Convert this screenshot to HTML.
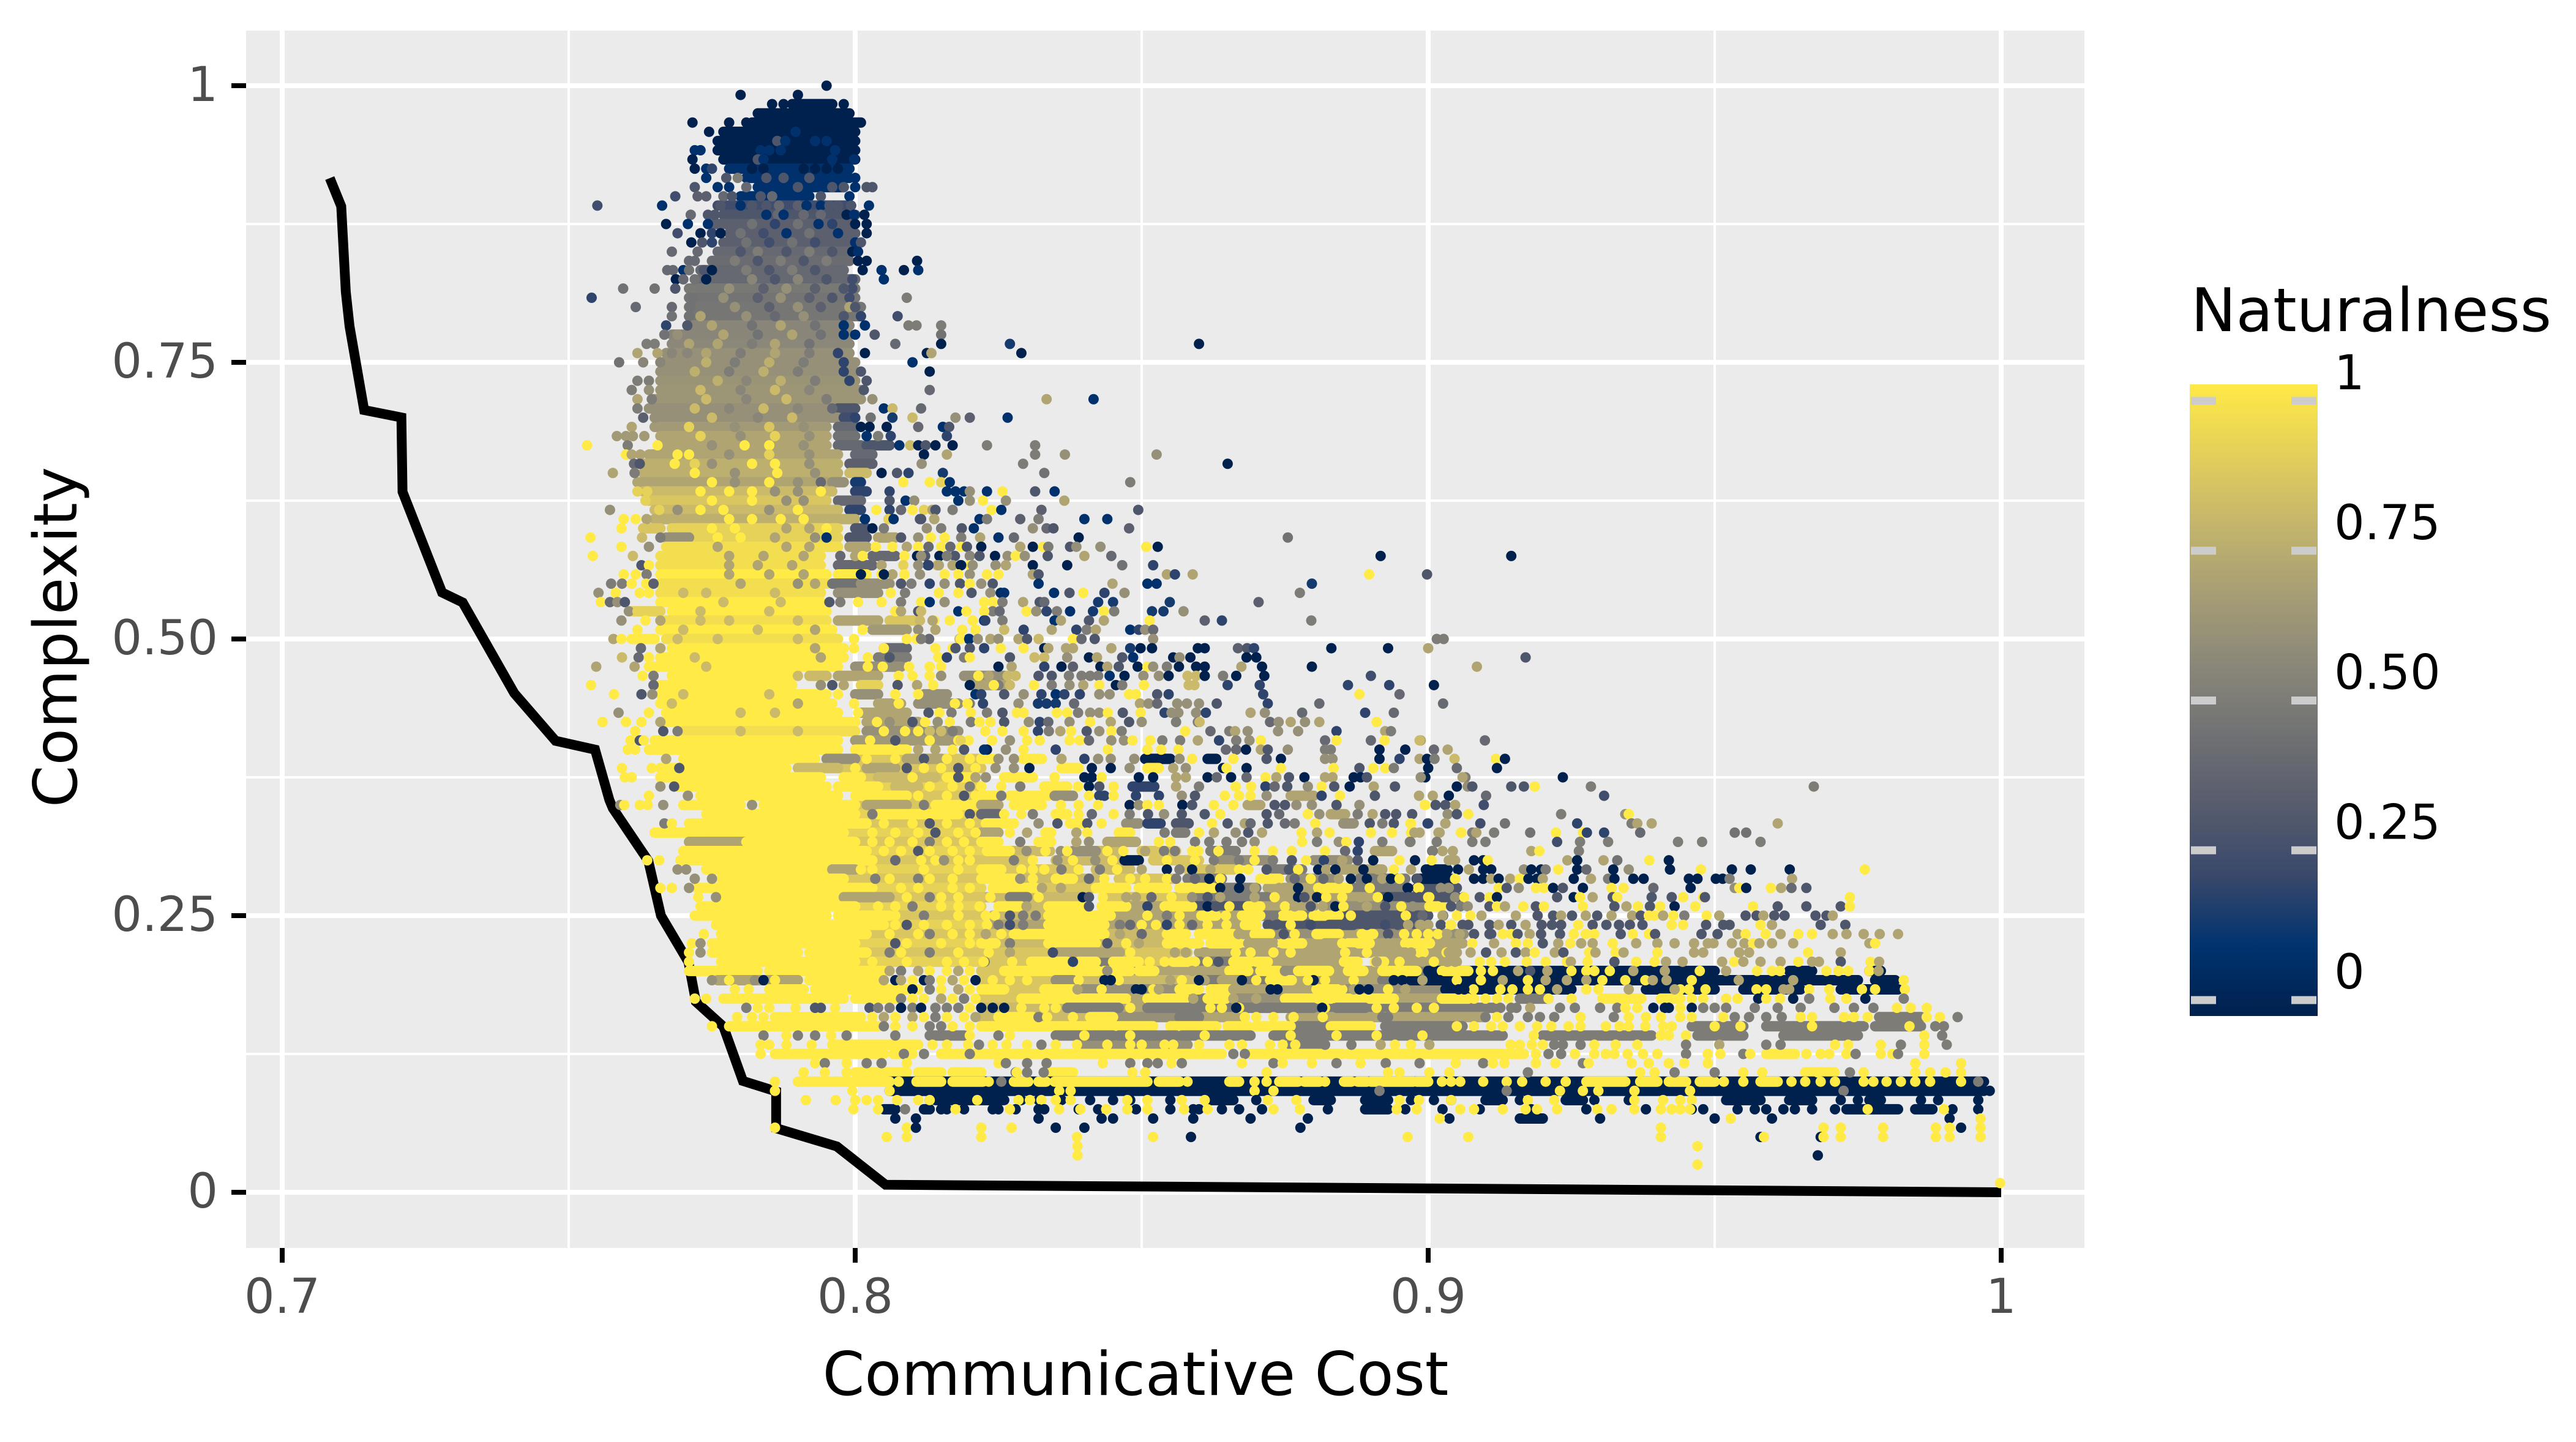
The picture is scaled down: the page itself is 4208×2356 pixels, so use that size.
<!DOCTYPE html>
<html lang="en">
<head>
<meta charset="utf-8">
<title>Complexity vs Communicative Cost</title>
<style>
html,body{margin:0;padding:0;background:#fff;}
svg{display:block;font-family:"DejaVu Sans","Liberation Sans",sans-serif;}
</style>
</head>
<body>
<svg id="chart" xmlns="http://www.w3.org/2000/svg" width="4208" height="2356" viewBox="0 0 4208 2356">
<defs><linearGradient id="cividis-ramp" x1="0" y1="1" x2="0" y2="0"></linearGradient></defs>
<rect x="0" y="0" width="4208" height="2356" fill="#ffffff"></rect>
<rect x="402" y="50" width="3003" height="1989" fill="#ebebeb"></rect>
<g id="grid"></g>
<g id="frontier"></g>
<g id="marks"></g>
<g id="axes"></g>
<text x="1855" y="2279" font-size="98.5" text-anchor="middle" fill="#000">Communicative Cost</text>
<text transform="translate(125,1041) rotate(-90)" font-size="98.5" text-anchor="middle" fill="#000">Complexity</text>
<g id="legend">
<text x="3579" y="541" font-size="98.5" fill="#000">Naturalness</text>
<rect x="3577" y="628" width="209" height="1032" fill="url(#cividis-ramp)"></rect>
</g>
</svg>
<script>
/* axis ticks */
const xMajorTicks = [0.7, 0.8, 0.9, 1];
const xMinorTicks = [0.75, 0.85, 0.95];
const xTickLabels = ["0.7", "0.8", "0.9", "1"];
const yMajorTicks = [0, 0.25, 0.5, 0.75, 1];
const yMinorTicks = [0.125, 0.375, 0.625, 0.875];
const yTickLabels = ["0", "0.25", "0.50", "0.75", "1"];
const legendTicks = [0, 0.25, 0.5, 0.75, 1];
const legendLabels = ["0", "0.25", "0.50", "0.75", "1"];
const cividisStops = ["#00204D", "#00336F", "#39486B", "#575C6D", "#707173", "#8A8779", "#A69D75", "#C4B56C", "#E4CF5B", "#FFEA46"];

/* optimal frontier */
const frontierCost = [0.7083, 0.7103, 0.7111, 0.71175, 0.7143, 0.7208, 0.721, 0.7279, 0.7315, 0.7405, 0.7477, 0.7546, 0.7571, 0.7577, 0.7639, 0.7661, 0.7709, 0.7722, 0.777, 0.7804, 0.7862, 0.7862, 0.7968, 0.8053, 1];
const frontierComplexity = [0.9165, 0.891, 0.8136, 0.7826, 0.7069, 0.7002, 0.633, 0.542, 0.533, 0.451, 0.408, 0.4, 0.3545, 0.347, 0.2994, 0.25, 0.208, 0.1722, 0.1497, 0.1006, 0.0912, 0.0579, 0.0414, 0.0068, 0];

/* complexity is quantised in 1/120 steps: level = complexity * 120
   bandRows: [level, naturalness(0-10), costStart, costEnd] in thousandths of cost — runs of touching points */
const bandRows = [
[37,8,822,834],[37,8,840,846],[37,8.5,850,856],[37,5,862,866],[36,8.5,822,830],[36,8,835,846],[36,8.5,852,860],[36,6,864,872],[36,6,880,886],
[35,8.5,826,838],[35,8,842,848],[35,8.5,858,866],[35,5,872,878],[35,7,884,892],[34,8,828,842],[34,8.5,846,856],[34,5,858,864],[34,6,876,884],[34,5,888,896],
[33,8.5,830,842],[33,5,862,870],[33,7,872,880],[33,5,886,896],[33,3,898,905],[32,8,822,840],[32,8.5,844,858],[32,5,860,872],[32,7,874,890],[32,3,892,905],
[31,8,829,834],[31,7,847,854],[31,3,858,868],[31,7,870,880],[31,6,882,900],[30,8,824,834],[30,7,845,860],[30,7,863,867],[30,5,870,880],[30,3,885,900],
[29,7,824,834],[29,7,844,860],[29,7,862,868],[29,3,872,882],[29,3,887,900],[28,8.5,822,828],[28,8,844,854],[28,7,866,870],[28,6,872,880],[28,7,884,888],[28,6,890,905],
[27,8,825,833],[27,8,842,854],[27,7,878,882],[27,7,890,896],[27,7,900,906],[26,8.5,822,835],[26,8.5,847,858],[26,7,860,879],[26,7,887,892],[26,7,896,905],
[25,8.5,822,830],[25,5,842,845],[25,8.5,849,855],[25,5,859,866],[25,7,872,885],[25,7,892,905],[24,8.5,822,826],[24,6,848,849.5],[24,7,852,865],[24,6,868,870.7],[24,6,874,877],[24,7,882.7,892],[24,5,898,902],
[23,8.5,822,838],[23,8,838,860],[23,5,860,872],[23,7,876,892],[23,5,892,897],[22,8.5,826,833],[22,6,838,856],[22,7,865,880],[22,6,885,903],
[21,8.5,822,829],[21,7,847,851],[21,5,857,861],[21,6,865,875],[21,7,894,902],[20,8,822,837],[20,7,846,851],[20,5,860,872],[20,5,880,884],[20,5,889,912],
[19,8,822,825],[19,8,831,841],[19,6,845,856],[19,7,860,868],[19,7,876,910],[18,5,876,883],[18,5,897,906],[16,6,840,858],[16,5,876,882],
[47,8.5,800,822],[46,8.5,797,822],[45,8.5,801,816],[44,9,804,822],[43,8.5,809,822],[42,8.5,800,822],[41,9,800,822],[40,8.5,802,822],[39,9,798,822],[38,8.5,800,822],
[37,9,802,822],[36,8.5,803,822],[35,9,800,822],[34,8.5,798,822],[33,9,803,822],[32,8.5,806,822],[31,9,800,822],[30,8.5,806,822],[29,9,805,822],[28,8.5,802,822],[27,9,800,822],[26,8.5,802,822],[25,9,800,822],
[118,0,789,796],[117,0,783,799],[116,0,782,801],[115,0,777,782],[115,0,783,800],[114,0,776,800],[113,0,776,800],[112,0,777,800],
[111,1,778,799],[110,1,781,799],[109,1,783,798],[108,1,780,792],[107,2.5,776,799],[106,3,777,800],[105,3.5,775,799],[104,3.5,778,800],
[103,3.5,777,800],[102,4,776,799],[101,4.2,775,799],[100,4,773,798],[99,4,773,800],[98,4.8,771,800],[97,4.6,771,800],[96,4.7,771,801],
[95,4.7,771,801],[94,5.5,771,799],[93,5.5,768,799],[92,5.6,768,799],[91,6,767,799],[90,6,766,800],[89,6,766,800],[88,6.2,766,800],[87,6.3,766,801],[86,6.3,765,801],
[85,6,764,797],[85,3,797,800],[84,6,766,797],[84,2.5,798,800],[83,6.5,765,795],[83,4,797,800],[82,7,766,795],[82,4.5,797,800],
[81,7,766,795],[81,4,797,801],[81,3,802,806],[80,7,764,797],[80,4,800,803],[79,7.5,763,797],[79,3.5,799,803],[78,7.5,763,797],[78,8,799,802],
[77,7,762,795],[77,6,796,798],[77,1.5,800,801],[76,8,763,796],[76,2,800,802],[75,8.5,764,795],[75,4,797,801],[74,8,765,797],[74,2,799,801],
[73,7.5,765,800],[72,9,768,797],[72,8.5,763,766],[72,3,800,802],[71,9,772,797],[71,6,767,771],[71,3,799,802],[71,7,804,807],
[70,9.5,767,797],[70,7,799,802],[69,9.5,766,794],[69,4,803,807],[68,9.5,766,794],[68,4,797,803],[67,10,766,795],[67,10,797,802],
[66,9.5,766,795],[66,4.5,796,800],[66,6,801,806],[65,9.5,766,794],[65,6,797,804],[64,10,766,794],[63,10,768,795],[63,9,761,766],
[62,9.5,767,795],[62,7,797,804],[62,8.5,806,811],[61,10,766,796],[61,6.5,803,809],[60,9.5,767,797],[60,10,761,765],[59,10,768,798],[59,4,805,809],
[58,10,766,798],[58,5,804,809],[57,10,764,797],[57,6,800,808],[56,10,768,789],[56,8,792,795],[56,7,797,804],[56,6,819,826],
[55,10,766,789],[55,9,801,804],[55,7,820,826],[54,10,766,795],[54,6,800,804],[54,6,812,816],[53,10,766,796],[53,7,804,808],[53,6,811,818],
[52,10,767,797],[52,7,801,809],[51,10,767,800],[51,7,802,811],[50,9.5,770,800],[50,6,802,818],[49,10,765,797],[49,6.5,800,818],
[48,10,764,797],[48,10,800,809],[47,10,770,793],[47,6,795,800],[47,7,809,815],[46,10,766,788],[46,8,790,797],[46,7,802,807],
[45,10,766,794],[45,10,798,801],[45,8,804,814],[45,10,816,821],[44,10,769,795],[44,10,797,804],[44,8,807,811],[43,10,773,797],[43,10,800,809],
[42,10,770,780],[42,10,784,800],[42,7,802,809],[42,10,814,821],[41,10,774,800],[41,10,804,818],[40,10,771,802],[39,10,765,774],[39,10,775,798],
[38,7,771,781],[38,10,781,800],[37,10,770,802],[36,10,769.5,803],[35,10,774,795],[35,7,796,800],[34,10,776.6,798],[33,10,772.4,803],[32,10,777,797],[32,7,798,806],
[31,10,773,800],[30,10,772,795],[30,10,797,806],[29,10,775.7,805],[28,10,776.6,797],[28,10,798,802],[27,10,775,800],[26,10,775,790],[26,10,792,802],
[25,10,776.6,800],[24,10,771,783],[24,10,785,805],[23,7,776,790],[23,10,792,804],[22,10,793,809],[22,10,785,791],[21,10,777,798],[21,10,800,807],
[19,10,786,801],[18,10,778,804],[16,10,796,811],[15,10,786,805],[13,10,800,809],
[47,10,822,824.5],[47,10,829.3,832.6],[47,0,850.6,855],[47,0,861.5,863],[46,10,836,839],[46,10,851,853],[45,10,826,831],[44,10,833,837],[44,2,848.4,852.2],
[43,10,822,824.5],[43,10,827,833.7],[43,6,834.8,838],[43,7,876,880],[42,7,822,825],[42,10,827.7,832.6],[42,7,868.5,870.7],[41,4,822,825],[41,10,835,837],[41,7,883,885.5],
[40,10,822.8,827.7],[40,10,837.5,840],[40,6,847.3,849.5],[40,2,851,853.3],[40,3,856,858.2],[40,6,885.2,887],[39,7,822,825],[39,10,833.2,834.2],[39,5,856,857.6],[39,10,846,848],
[38,10,822,825],[38,10,832,834.2],[38,7,844,849],[37,10,823,827],[37,6,838,842],[37,7,890.7,893.7],[36,0,847,849.5],[35,10,822,825.5],[35,0,899.6,903.4],
[34,10,822,828],[34,10,835,838],[34,10,870.7,874],[34,0,898,903.4],[33,10,824,831.5],[33,10,842,847.3],[33,10,849.5,854.4],[33,10,856.6,862.6],[33,10,880.8,886],
[32,5,827,830],[32,3,896.4,899.6],[31,10,825,829],[31,10,833.7,840],[31,10,843,847.3],[31,10,854,858.8],[31,10,868.5,870.7],[31,10,900.2,902.4],
[30,10,833.7,844.6],[30,10,860.4,863],[30,10,867.5,870.7],[30,10,874.6,878],[30,10,880,884.4],[30,3,890,892],[29,10,833.7,843.5],[29,3,882.7,887],[29,10,868,870],
[28,10,827.7,843.5],[28,10,854.4,857.7],[28,10,860,866],[28,10,869.7,872.4],[28,10,880.5,884.4],[28,10,888.4,890.4],[27,10,822,824.5],[27,10,833.7,842],[27,10,854.4,860],[27,10,862,867],[27,7,868.6,873],[27,10,874.6,878],[27,7,882,885.4],[27,10,886,889.8],[27,10,896,900.2],
[26,7,835.3,846.2],[26,7,879,887],[26,7,892,896],[25,10,830.7,837],[25,10,839,842],[25,10,845,849.5],[25,10,855.5,859.3],[25,10,866,869],[25,10,870,872],[25,10,885.3,887.7],[25,10,890.7,892.3],
[24,0,900,907],[24,0,907,950],[24,0,963,967],[24,0,977,979],[23,0,897,907],[23,0,907,975],[23,0,978,981.5],[22,0,903,907],[22,0,907,925],[22,0,938,950],[22,0,955,965],[22,0,972,982],
[24,10,826,842.4],[24,10,843.5,848],[24,10,849.5,852.2],[24,10,865.3,868.6],[24,10,870.7,874],[24,10,877.3,882.7],[24,10,886,888.7],[24,10,892,898],[24,10,902.4,907],
[23,6,835,838],[23,7,864,867.5],[23,10,872.4,876.2],[22,10,822,826],[22,10,833,838],[22,10,856.6,860],[22,10,862,865.3],[22,10,880.5,885],
[21,10,829,847.3],[21,10,851,857.6],[21,10,861.5,864.7],[21,10,875,883],[21,10,884,894],[21,10,902.4,907],[21,5,916,921],[21,10,930.4,937.2],[21,10,940.6,944],
[20,5,837,846],[20,5,851,860],[20,5,872,880],[20,5,884,889],[19,10,825,831],[19,10,841,845],[19,5,856.6,860],[19,5,978.7,986],
[18,10,822,852],[18,10,855,863],[18,10,865,868.6],[18,10,870,876],[18,10,883,890],[18,5,892.5,897],[18,5,946,955],[18,5,959,976],[18,5,978,986],
[17,5,813,819],[17,5,835,845],[17,5,846,856],[17,5,857,869],[17,5,873,913],[17,5,920,939],[17,5,947,955],[17,5,962,975],
[15,10,815,826],[15,10,806.7,810],[15,10,824,864],[15,10,869,885],[15,10,886,916.7],[15,10,959,964],[13,10,811,815],[13,10,817,822],[13,10,834,838],[13,10,965.8,970.9],
[12,0,806,997],[11,0,806,997],
[10,0,814,826],[10,0,862,866],[10,0,880,883],[10,0,889,893],[10,0,910,913],[10,0,924,927],[10,0,952,958],[10,0,963,967],[10,0,977,979],
[9,0,805,807],[9,0,812,813],[9,0,889,893],[9,0,973,982],[9,0,985,988],[8,0,916,920],
[12,10,790,806],[12,10,810.7,815],[12,10,817,822.3],[12,10,827.7,830.2],[12,10,832,833.3],[12,10,834.8,851],[12,10,853,856.6],[12,10,865.3,867],[12,10,874,877.3],[12,10,878.4,881],[12,10,885.3,886.6],[12,10,887.7,889.3],[12,10,890,897.4],[12,10,898,900],
[12,10,927.6,934.4],[12,10,937,940],[12,10,942,945],[12,10,947.4,950],[12,10,958,961]
];

/* pointRows: [level, n,cost, n,cost, ...] single points read row by row; n = naturalness(0-10), cost in thousandths */
const pointRows = [
[120,0,795],[119,0,780,0,790],[118,0,785.5,0,787.5,0,798],[116,0,771.6,0,778,0,781],[115,0,774.5,1,789.6],
[114,3,786.4,1,787.8,1,793,1,795],[113,1,772,1,773,1,783.5,1,785,1,787,1,796.5],[112,0,771.6,3,783,1,784,1,796,1,799.8],
[111,0,772,1,774,2,775,0,782,0,784,0,791,0,793,0,795,0,797],[110,1,774,3,777.5,5,779.5,3,784.5,3,787.5,3,792,1,800],
[109,3,772,1,776,1,778,4,781,3,790,3,796,3,798,1,800,3,802,3,803],[108,2.5,768.6,3.5,772.5,3.5,774,4,777,3,778.5,3,783.5,4,785.5,3,794,1,799],
[107,2.5,755,1,766.3,3,776.5,1,780,3,782,3,784.5,4,786.7,3.5,790,1,791.5,1,794,3,795.5,3,797,3,799.3,1,802.4],
[106,4,771.3,3,774.3,3,775.5,4,786.5,1,784.5,1,787.5,4,791,4,794,0,798.5,1,799.8,0,801.6],
[105,0,767,1,770.8,1,774.3,1,793.6,0,800,0,802,4.5,782,2,786,4.5,790,2,796],[104,2.5,769,0,773,2,775,0,776.5,1,788,1,797,0,802,4.5,780,2.5,784,4.5,792],[103,0,771.4,3,773.3,2,775,1,800,3,801,4.5,781,2.5,785,4.5,789,2.5,793],
[102,4,768,4,772.5,0,799.5,1,800.5,3,780,5,783,3,788,5,792,3,796],[101,4,771,4,772,0,800.5,0,802,0,810.8,5,779,3,783,5,787,3,791,5,795],[100,4,767.2,4,768.2,1,770,4.5,771,3,773.6,0,775,0,801.3,1,804.6,0,808.5,1,811,5,781,3,785,5,789,3,793],
[99,0,768.7,4,770,4.5,772,0,774,1,805,2.5,799.5,5.5,782,3,786,5.5,790,3,795],[98,4.5,759.5,4.5,765,3,768.6,2.5,799.5,3,798,6,778,3.5,784,6,788,3.5,793],[97,2,754,4.5,771.7,5,809,2.5,799,6,777,3.5,783,6,787,3.5,792,3,796],[96,4,761.7,4,768,4.5,771.2,7,799,3,800,6,779,3.5,785,6,790,3.5,794],
[95,4.5,768,4.5,771,7,773,2.5,807.4,3,798,2,801,6,781,4,786,6,791],[94,2,767,3,770.7,1,801.7,5,809.3,5,810.7,5,815,1,798,7,775,4.5,782,7,787,4.5,793],[93,4.5,766.7,6,769,1,800,3,803.4,4.5,815,1,798,7,777,4.5,783,7,789,4.5,794],
[92,5,763.6,5,765,7,771,4,807,0,815,1.5,827,0,860,7,776,5,782,7,786,4.5,792],[91,7,762,7,765.5,5.5,768,5.5,770.7,0,801.7,0,812.5,7,813.3,0,829,7,774,5,780,7,786,5,792,2,797],[90,4.5,758.8,5.5,763,5.5,766,1,810,7.5,774,5,779,7.5,785,5,791,2,798],
[89,0,813,3,801,7.5,772,5,778,7.5,784,5,790,2,798],[88,5,762,5,764,3,802,7.5,776,5.5,781,7.5,787,5,793,2,799],[87,4,813,5,761,3,801.5,6,764,8,773,5.5,780,8,786,5.5,792],[86,7,762,5,764.5,6,803,7,833.4,1,841.6,8,774,5.5,781,8,788,5,795],
[85,1,805,8,806.5,4,811.5,5,762,8,772,5.5,778,8,784,5.5,790,4,796],[84,3.5,763,6,765,2,800,4.5,802.7,1.5,806.5,8,810,6,817.5,3.5,820,1,826.6,8,775,5.5,783,8,789],[83,7,761,0,801,0,802.5,0,805.5,4,811,1,815.3,3,816.4,9,771,6,779,8.5,785,6,791],
[82,6.5,758.4,6.5,760,6.5,761.2,6.5,763.2,1,802,5,804,2,806.2,2,816,9,773,6,780,9,786,6,792],[81,10,753.2,5,760.3,10,765.5,1,807.7,8,809.6,0,811,3,812.3,0,814,0,817,5,823,5,831.4,10,780.7,10,785,6,775,6,791],
[80,10,760,7,761,7,762.5,0,812,7,816,5,831.4,6,836.6,6,852.6,10,769,10,771,6,778,9,785,6,792],[79,4,761.4,3,762.4,10,768.5,10,782,10,786,6,811.6,5,829.3,0,865,6,775,6,792,9,772],
[78,7,757.7,5,761.5,10,772,10,786.4,0,804.6,3,807.3,2,809.3,1.5,815.3,4.5,833,6,779,6,793],[77,10,808.4,10,813,9,815,1,816.5,5,848,10,775,10,785,6,779,6,790,4,794],
[76,9,762,9,763.7,10,794,2,806,1,816,1,817.5,1,819,6,820,1,823,10,825.7,3,831.4,1,834.8,10,773,10,778,6,786,10,782,6,790],[75,9,763.4,3,806,1,808.8,6,810.3,1,818,6,820,10,822.3,6,826.3,7,836.5,10,775,10,782,6,788,6,791],
[74,6,757.2,9,765.8,10,803.7,2,806,4,808,10,810,9,812,9,813.4,1,814,10,813.5,7,813.5,3,814,5,817,10,823.8,1,825.5,3.5,832.5,3,849.4,10,773,10,777,10,790,6,769,6,785],
[73,10,759.6,10,761.7,7,763.6,1,801.7,9,805.8,1,806.7,3,811.3,8,813.8,3,811.5,7,813.8,1,821.7,5,823,3.5,828.8,5,832,1,840,1,844,10,787,10,778,10,782,10,791],
[72,10,759.2,8.5,763,0,803,5,805,6,812.5,5,815,3,818.6,1,820.7,6,831,4,833.4,3,834.6,3.5,847.8,10,795,10,779,10,775,7,788,7,792],
[71,10,753.8,8,762.8,5,766,1,795,3,808,6,811,10,813.2,10,815.6,5,818.5,7,821.8,1,825,4,827.7,0,839,4.5,875.5,10,776,10,780,7,786,6,793],
[70,10,759.2,6,764,10,803.6,10,806.5,7,809,10,811,4,812.8,10,815,4,816.6,10,818.5,3,819.5,0,822,7,828.8,0,831,10,832.8,5,833.7,3,837.5,6,838.6,6,842.8,10,850.8,0,852.8,7,776,7,788,7,792],
[69,10,754.2,8,761.2,4,797.4,7,800,10,801.3,10,808.6,0,810.8,3,812.2,0,814.7,3,817.4,5.5,820,6,811.5,5,816,3,821.7,0,824.4,6,826.6,10,828,6,829.6,3,833.6,7,840,4,844.7,0,891.7,0,914.5,7,778,7,784,7,791],
[68,3,762.7,10,764,7,804.6,9,808.4,1,812.7,8,814.3,7,817,10,820,1,818.5,6,811,2,812.8,7,814.6,7,817,0,818.4,6,820.5,6,824.5,7,826.3,0,831,0,837,4.5,846.6,2,852,7,778,7,783,7,789],
[67,10,759.6,10,761.7,5,763.6,10,804.6,7,806.5,10,808.6,6,811.3,10,815.6,10,818,6,820,10,823,10,825,7,831,3,832,7,854.4,2,855.8,7,858.9,10,889.7,3,899.8,0,805,7,778,7,785,7,791,0,801],
[66,5,757.4,5,759.3,10,761,10,763.5,3.5,764.8,3,808,5,809.8,2,813,6,815.6,3,818.3,10,820,6,822,3,824,1,832,7,844.9,1,851,1,852.6,1.5,879.7,7,780,6,790,7,793],
[65,6,755.2,10,758.2,10,762.4,10,764,10,806.2,5,808.7,10,814.6,10,818,3,820.3,6,823.6,0.5,825.4,1,826,1,834.7,3,837.4,10,839.8,2,843.5,6,847,5,877.6,8,770,8,774,8,786],
[64,10,755.6,4,757.2,6,758.5,3,759.8,3,795.5,5,797.4,10,800.5,10,804.6,5,808,10,811.5,1,813,6,815.6,10,822.5,10,824,5,825.7,7,829.3,3,832.2,4,833,1.5,842.4,1.5,845,1.5,854.9,3.5,870.4,8,777,8,787],
[63,6,760.5,9,762,10,807,7,808,1,818,10,819.4,5,824,10,822.5,4,825.2,10,829.9,6,831.6,2,833.4,5,835.2,1,837.5,1.5,841.5,10,843.4,5,845.2,1.5,851.8,1.5,853.8,6,857.3,3,811,8,811.5,8,773,8,785],
[62,6,759.2,10,763.4,7,766,10,813.8,10,820.5,1,822.5,5,825.7,8,811.3,7,813.5,10,816.5,10,820.5,2,822.7,1,834.8,7,835.9,3,840.8,7,843.4,10,851.4,3.5,861,2,864,5,879.6,8,773,8,778,8,790],
[61,10,762,10,801.3,10,818.7,10,821,6,811,7,814,8,826,2,829.4,7,834.3,2,838.6,5,840.4,7,842,1,848,2,849.5,6,850.6,4,852,8,770,8,783,7,793],
[60,7,757.8,10,759.2,10,799.8,10,809,10,810.7,4,812.9,8,818.2,2,819.8,7,823.6,5,811.5,10,818.4,1,819.9,6,821.4,7,823.6,6,825,7,828.5,3,830,8,832,10,838,4,839.5,3,841.8,6,852,5,901.5,5,902.7,8,769,8,776,8,790],
[59,4,762.6,7,766,10,799.8,10,814,10,817,3,817.5,3,820,2,822.5,10,825.4,10,829.4,0,833,7,833.7,7,836.8,7,838,7,844.7,1.5,848,0,849.8,0,851.8,0,859.8,0,861,3.5,866.8,3,868.4,2,869.6,0,883.1,0,893,7,900,10,805,7,793],
[58,8,759.3,4,762.2,10,764,10,802.2,3,806,10,814.5,5,819,10,820,2,816,8,831.3,3,827,8,833,6,837,0,840.8,7,842.2,3,846.6,1,848.5,0,855.5,6,856.6,0,858.5,0,868.3,0,870,3,917,8,772,7,794],
[57,7,754.8,7,761.5,10,802.2,10,804.8,10,809.4,10,813,10,815,0,825,7,827.3,2,833,0,836,3.5,838,0,842.8,7,844,3,846,0,849.3,10,851,6,852,5,854.4,0,856.5,0,859.5,0,861,7,867.4,0,871,0,879.7,7,908.5,8,774],
[56,10,762.9,5,764.8,10,807.6,10,810,10,813,10,815,6,815,10,821.5,6,823.3,7,823.3,8,826.6,8,828,3,832,3,834.3,5,837.3,5,839.5,5,841,5,842.4,1,844.4,0,847,6,850.3,6,853,0,854.7,8,858,8,859.5,0,861,5,864.2,0,866.5,0,871.4,2.5,890,8,790],
[55,10,753.9,4,764.8,6,794,3,796,7,798,3,807.4,7,810.8,10,813.6,0,820,5,825,10,824.2,8,827,10,831.2,5,834.3,6,837.4,7,839.8,10,842.6,0,845.5,5,846.6,10,850.4,8,858.2,8,859.2,2,865,2,870.6,2,886,2,893.2,0,901],
[54,10,757.9,3,762.7,6,764.6,10,797,10,807,10,811,1,821,2,822,3,826,6,829.4,2,832.5,1,835,2,836.5,2,839.2,6,842.6,6,844.4,10,847.8,10,849,3,852.7,2,854.7,2,871.2,10,888,4,895,8,770,8,785],
[53,10,799.8,10,807.6,6,813,5,820,10,817.4,10,819.6,2,822.3,6,828.5,1.5,831.9,1.5,833.4,1.5,835,4,838.2,7,849.7,6,851.2,4,852.7,6,856.2,6,857.9,6,860,3,863.1,2,872,4,881,4,902.6,8,768,7,790],
[52,6,758.7,10,764,10,800.5,3,812.8,10,814.7,5,816.8,10,820.2,5,823,3,825.7,10,828.2,10,829.4,10,835.2,10,837,5,838.9,6,841,6,842.6,10,844.1,3,846.7,10,849.8,2,854,6,855.2,6,856.4,6,859.5,2,861.2,7,869,6,871.5,4,878,2,889,4,894,8,780,8,786],
[51,10,755.9,10,760,10,762.7,10,803.8,6,806,3,810,5,820.2,10,812.2,6,814.4,10,816.5,5,820.2,10,821.7,10,823.6,3,826,6,830.3,2,832.2,4,833.7,6,837.4,10,841,7,844.6,3,847.8,6,850,5,856,5,859.8,8,860.1,4,872.4,6,873.9,7,876,6,878.5,7,881,10,891,7,766],
[50,10,761.6,3,766.5,5,769,10,808.7,8,813,8,815,5,817,10,822.7,10,825.7,10,829.4,2,831.9,5,833.8,7,835.8,10,837.7,3,840.4,6,842.6,10,844.7,5,846.5,10,857.6,4,862,5,865.3,7,866.3,6,868.5,6,873.8,6,877.3,2,884,7,892.5,5,893.5,10,805,10,811,8,780,8,790],
[49,10,760.8,3,762.4,10,763.1,10,802.6,10,818,10,819.8,9,818.4,10,823.9,6,827,10,830,10,832.2,10,837.4,10,839.2,4,840.8,6,844.7,6,846.9,10,848.4,10,851.5,5,853.6,5,856.7,7,859.8,2,863.5,5,866.5,6,868.8,10,870.8,4,882,10,884,4,890,10,892.4,7,898.7,8,898.5,4,909.9,3,807,10,813],
[48,10,760.3,10,761.6,3,819,0,823,6,826.3,10,829.4,2,835,10,844.1,10,851,10,853.4,10,856.4,4,864.7,4,866.5,0,868.2,7,870.8,3,872,6,875.5,5,882,5,883,0,891.5,0,896,4,901,7,903.4,1,822.5,7,811,7,814,10,817],
[47,7,767,6,825,6,827.7,7,836,2,840,6,842.4,6,844.6,6,848.7,6,856.6,10,858.8,10,866,3,871.8,0,874.3,6,882,6,883.3,0,891.5,2,895,7,898.5,0,899.8,5,901.1,8,904.6,10,911.8,0,913.4,10,802,10,807,10,816,3,812,10,820],
[46,10,759.3,10,764.5,3,769.3,6,824.5,6,827.7,0,830.4,0,841.3,0,844.6,6,847.9,7,855.5,6,857.7,0,864.2,10,864.8,0,868.3,10,874.3,10,883.5,3,888,10,890.4,10,892.5,5,894,0,900,4,905,0,912,10,800,3,809,10,812,10,815,3,818,10,821],
[45,10,759.8,10,761,6,822.8,10,834.8,0,840,0,841.3,10,843,0,849.5,0,852,7,856,7,857.7,0,861.5,4,863.1,0,865.6,4,868.3,10,871.6,7,873.5,3,875.7,0,878.4,7,882,7,883.3,0,887,0,888.2,3,889.3,4,898.8,0,899.5,6,898.7,5,906.5,0,923.5,7,906,10,810,3,818,7,821],
[44,6,766,3,768.4,10,825.5,5,828.8,10,838.9,3,842.6,0,840.8,10,845.1,7,856,5,860,10,866.4,10,869.1,2,871.6,4,873.2,3,875.4,6,879,10,881.4,3,883.6,0,886.3,7,890.5,3,894.2,0,905,6,906.9,3,907.7,3,914.5,3,916.7,10,918.6,5,928.4,5,967.3,10,813,10,817,5,820,10,822],
[43,10,764,6,770.8,5,825.5,10,840.8,2,842.6,2,843.5,10,845.1,2,849,2,853,6,857,3,859.3,10,864.5,10,867,10,869,6,871.8,2,881.4,10,884.6,3,890.7,7,898.4,7,900.8,0,903.6,4,910.1,2.5,930.7,10,811,10,816,3,819,10,821],
[42,6,759,10,759.7,10,762.4,10,763.8,6,766.5,6,782,10,835.9,10,839,10,842.4,0,847.9,6,849.5,10,851,10,853,0,857.1,3,858.8,10,862.6,10,866,3,873.2,3,875,6,877,6,879.7,3,884,6,888,10,899.4,3,901.3,3,903,7,904.7,10,899.5,2.5,909.7,5,812],
[41,10,829,5,831,10,839,4,841.3,10,845.1,5,847.9,3,851.1,6,853.9,3,857,3,861,10,863.7,3,871.8,4,874,10,879,6,881,5,887.7,7,890.3,3,892.5,3,894.4,3,897.2,6,903.4,3,905,10,907,5,923.2,6,934.4,10,935,3,820,5,803,10,826],
[40,5,766.7,10,768,10,771.9,3,835.3,6,832,10,840.4,3,840.5,10,843,7,868,3,865,10,862.3,4,869,3,872,4,875,5,876.7,10,880.3,3,889.8,5,892,3,894,10,896.9,3,900,6,903,10,897,2,899.9,7,903,2.5,909.1,4.5,913.4,2,926,5,935.5,7,936.5,7,939,7,961,10,805,10,810,3,813,10,816,10,820],
[39,10,827,7,830,10,833.2,7,838.6,10,840.5,5,854,7,862.6,10,860,6,866.4,3,868.6,7,871,10,877.9,7,880.6,10,882.8,10,890,10,893.7,10,897,7,898.5,7,901.8,10,905.7,7,897.6,7,902,10,905.8,5,907.7,7,908.4,5,911.5,4.5,917.8,10,922.3,10,927,2,927.7,2,930.7,4,937,4.5,953.5,4.5,955.5,10,803,10,807,10,811,3,814,10,818,10,821],
[38,5,828.8,10,838.6,7,838.6,6,840.8,10,853,10,855,5,859.3,5,861.8,5,864.8,5,867.5,6,869.7,10,878,5,880.6,6,884.4,10,885.7,2,887.9,5,892,5,896.9,5,901.5,5,896.8,5,907.7,5,910,2.5,922.5,5,926.5,5,931.4,5,943.6,5,947.8,5,958,10,803,10,806,10,810,5,813,10,816,10,819],
[37,6,829.9,10,833.2,6,835.9,10,846.8,7,850.6,5,853.9,5,855.8,10,858.8,10,859.9,10,863.4,5,866.4,10,869.7,10,872.9,10,876.2,10,882,4,885.5,2,887.7,4,900.7,7,902.5,7,904.3,5,900.8,7,918,10,919.4,5,926.3,10,805,10,808,3,811,10,813,10,817,10,820,10,824,10,837,10,844],
[36,10,763.7,10,765.8,4,807,10,811.5,10,814,6,815.5,10,818,10,820,5,827.7,10,831,6,835.3,10,838,6,841.9,10,844.9,10,854.4,10,859.3,5,862.6,5,867,10,869.7,5,872.9,3,876.2,10,878.7,2,881.8,7,885,3,887.7,0,890.4,10,895,0,897.7,10,900.6,7,903.6,7,904.7,0,908,0,909.6,10,910.4,7,924.3,0,926,7,930.6,4.5,933,10,938.6,0,942],
[35,6,769,6,770.5,10,801,10,803,10,812,10,818,10,829,10,831,10,833,5,836,10,839,5,842.7,10,845.7,7,850,0,854.4,5,856.6,0,858.8,7,862,10,867,10,868.6,3,871.8,3,875.7,10,877.3,0,880.8,7,882.2,0,883.8,7,886.5,0,888.7,7,891.2,10,894,7,897,0,905.2,7,907.1,0,909.6,0,911,6,916.7,0,918,0,919.7,5,920.5,10,922.7,0,926,4,927.6,0,932.3,6,935,0,942.2,10,947.6,0,953,0,956.3,0,963.1,10,976.2],
[34,6,772,6,775,5,803.5,10,806,5,811,10,813,10,817,6,828.8,10,831,4,840.8,10,843.5,10,848,10,850.6,10,854.4,5,856,4,859.3,0,861.8,10,863.7,0,867.2,4,876.7,10,879.5,4,881.7,7,884.4,0,886.5,0,889.3,7,892,0,893.5,10,895,10,904.5,3,898.1,0,902,0,904,10,904.7,0,908,0,909.6,7,911,0,912.3,7,914.3,10,916,0,917.5,0,919,7,920,0,925.4,7,928.4,5,931.4,0,932.5,0,935.8,0,937.6,0,945.5,0,947,0,950.2,0,951.4,5,952.6,7,963.5],
[33,10,766,10,768,6,771,10,808,10,811,10,817,10,820,7,832.6,7,835.9,0,863.7,0,867,7,869.7,7,874,0,877.3,10,889.8,0,896.4,10,898.2,3,903.4,0,896.5,10,898.4,6,902.2,6,903.6,10,912.3,3,913.7,6,915.8,10,918.8,10,920.2,0,921.8,3,923.5,0,927,10,932,10,934.1,4,939.3,0,945.8,6,953.5,10,954.3,0,955.5,10,959.8,7,961.6,4,963.4,3,966],
[32,10,772.6,6,775.7,10,809,5,813,10,815,10,818,10,823.6,10,832,0,839.7,3,840.8,10,843.2,7,847.3,7,849,4,851.7,10,855.2,6,858.8,3,861.5,7,863.7,7,869.7,10,873.2,0,877.3,3,878.4,0,880.6,10,882.2,10,885,7,888.2,10,891.2,0,893,10,900.2,3,902.4,3,906.2,3,896.5,3,898.5,10,900,3,902.8,6,904.7,10,906.3,3,909,10,910.7,0,912,3,922.5,0,925.4,10,926.5,7,928.7,3,932.2,10,933,3,939,3,942.5,10,944.5,10,948,3,948.3,10,973.6],
[31,10,804,10,807,5,810,10,815,10,818,10,821.7,7,829.9,3,840.8,2,851,0,861.5,3,863,10,865.3,10,875,7,876.7,3,879.5,7,881.6,0,883.8,10,885.2,7,889.3,3,892.5,10,895.3,5,905.6,6,897.3,10,901.7,3,904,6,906.9,3,910.7,10,912,7,913.4,10,916.6,3,918.8,10,920.2,10,927,3,932.5,7,934.6,10,936.6,3,938.7,10,940.5,0,943,10,946.6,10,956.7,3,961,3,966,3,972,10,973.6],
[30,10,807,5,812,10,818,10,822.8,10,824.4,3,827,5,829.3,5,831.5,10,851,5,854.4,10,856.6,10,864.7,5,873,10,886.5,3,899.1,10,896.1,4,899,3,902.6,10,905,7,902.5,10,907.4,7,909.3,7,915.3,3,919.1,3,921.8,7,923.2,3,925.1,7,927.5,3,929.5,7,932,7,935.6,3,937.1,10,938.5,10,939.5,7,941,10,942.8,5,944.7,10,948.6,7,950.8,3,955.4,3,957.3,7,958.5,3,960.4,3,962.2,3,967.6,3,969.5,7,970.6],
[29,10,807,3,809,10,812,10,816,10,820,10,823,5,825,2.5,827,5,829.3,5,846.2,4,848,10,850,10,852.5,2,854.4,10,856.6,4,858.8,10,861.5,10,864.8,3,873.5,10,876,2.5,879.5,3,889.3,2.5,892.5,3,894.7,6,898.5,10,904,3,907,7,896.5,7,898.7,7,900,3,902.2,10,903.9,3,906,3,910.7,7,912.3,3,914.5,7,917,3,919.8,3,921.6,3,923.2,10,926.2,3,928.7,3,931.1,3,933.3,3,935.2,3,937.4,10,942.5,10,944.5,3,948.5,3,951.5,3,952.6,10,958,7,960,3,968.5,3,972.8],
[28,10,773.6,10,806,10,811,5,813,10,817,10,820,7,822.8,10,825.5,7,846.2,4,850,7,866.9,3,874.8,10,876.7,3,893,10,895.8,7,900.2,7,903,6,906.2,10,898,10,900,10,901.7,7,903.3,7,905.5,3,908,3,910.7,3,911,10,913,10,914.5,3,915.6,7,917.7,3,919.7,3,923,10,925.4,10,927.5,10,929,3,933.6,10,935.7,10,938.5,3,939.6,3,947.7,3,950.5,7,954,10,955.4,10,958.9,7,961.5,10,964.6,10,967,7,970.6,7,973,7,976,7,978.8,7,982],
[27,10,771.5,6,773,3,807,10,809,10,815,10,820,5,827,3,844,10,847.3,7,849.5,10,885,7,893,7,900.8,7,905.7,10,898,10,900.3,10,900.3,7,904.1,7,905.8,10,907.7,7,911.5,10,915.3,10,917.4,3,920,7,922.7,10,924.8,7,926.7,7,928.7,10,932.2,7,936.3,7,940,7,943,7,946.4,7,948.8,7,949.8,7,953,7,955.2,10,956.7,7,957.8,7,960,7,963.7,7,977,10,978],
[26,10,771,6,773,5,806,10,808,5,813,10,818,10,823.3,7,827,2.5,834.5,10,848,7,855.8,7,857.7,7,861,10,866.4,10,869,10,873,10,876,10,885.5,10,889.3,10,898.5,10,903.2,7,897,10,899.2,7,901.4,7,903.6,7,907.4,3,910.1,7,912.8,3,915.3,7,917,10,918.6,7,922.1,3,923.6,10,928.1,7,929.2,10,932.7,7,934.1,10,940,7,946.4,7,948,7,954.3,7,956,10,966.3,7,972],
[25,10,771,10,803,10,809,10,816,10,819,5,822.6,10,822.4,10,827.4,2,838,10,851.4,10,854,10,861.5,3,863.4,10,866,7,891,10,895,7,899,7,903.4,10,901,7,903.3,7,904.7,10,909,10,911,10,913.4,10,917.2,10,920.5,10,924.2,7,924.9,10,927.8,3,932.5,10,936.3,10,939.5,7,941.5,7,944.4,7,951.3,10,953.4,7,955,7,958,7,961.5,10,964.6,7,967,7,968.2,3,972,10,977.2,7,978.7],
[24,7,806,5,808,7,811,10,813,10,816,7,818,10,820,10,909.2,10,911.3,7,915.7,3,917.8,7,920.8,10,925,10,927.6,10,929,10,931.7,7,935.8,7,941.3,10,947.4,7,952,10,957.4,10,960,10,961.4,10,969.5,10,971.6,10,973.3,10,977,7,978.6,7,858.8,7,860,6,844,6,875],
[23,6,775,10,778,6,782.5,0,784,10,786,7,805,0,807,7,808,10,810,0,812,5,813,10,815,7,817,10,819,0,821,10,909.2,7,913,10,917.4,7,920.5,7,924.2,7,927.6,10,930.4,10,934.4,10,937.9,7,939.2,7,941.6,10,946,7,954.2,7,963.7,10,983,10,824,10,827,10,830,10,839,10,846,0,843.5,0,844.6,7,855,10,857,7,861,0,860,10,870,0,867.5,0,880,10,879,10,882,7,885,10,887,0,894,0,895.5,7,899,0,902,10,905],
[22,10,779,10,781.4,10,811,5,813,10,815,7,818,10,820,0,810,10,907.9,10,912.6,10,914.7,10,917.4,10,919.5,7,922.5,10,927.6,10,929.7,7,935,10,944,10,945.5,10,948.4,7,943,10,957.3,10,959,7,962,7,963,10,966.5,10,970,10,975.7,10,978,10,983.2,0,849,0,850,7,838.8,10,843,10,852,7,853,0,872.5,0,873.7,7,866,7,887,0,888,0,889.6,10,893,7,896,0,905.3,0,906.3],
[21,10,772,10,774,10,908,10,910,10,912,10,914,10,921,10,925,10,946,10,948,0,957.6,10,952,10,954,10,959,10,961.4,0,963.7,5,966.5,10,970.2,10,973,0,976.3,5,983,5,808,10,810,10,812,7,815,10,817,5,819,10,821,7,849,7,859,7,866,7,870],
[20,5,781,10,783,10,785,10,789.6,3,793,3,794,10,796.5,3,802.5,5,804,5,806,0,808,5,810,0,811.5,5,814,5,816,5,818,10,820,0,822,10,826,10,829,0,824,0,826,10,833,10,835,10,848,10,862,10,864,10,867,0,866.5,10,882,0,881.5,10,891,10,894,10,898,10,901,5,912.6,5,914.5,5,915.4,7,917.8,5,923,5,925.6,5,930,5,933,10,934.4,10,936.5,0,939.3,0,941.3,0,942,10,944,0,946,5,948,5,950,5,952,5,957,5,961,5,965,5,970.9,5,974.3,5,977.7,10,981.8,10,984.2,10,987],
[19,10,779.4,10,782,10,784,10,803,7,805,10,807,7,810,10,812,5,814,10,816,10,819,7,821,5,832,10,833.5,10,838,10,868,10,870,10,873,10,876.5,10,881.6,5,892,5,893,5,910,10,912,5,914,5,917.4,5,919.5,5,922,10,926.6,5,932.4,10,935,10,938,10,940.6,10,944,10,946,10,951.5,5,953.5,5,956,5,959,5,961.7,10,965,10,967,10,972.6,10,974.3,10,976.7,10,987,10,989.3,5,992.4],
[18,5,805,10,807,10,810,5,813,5,815,10,817,10,820,10,775,10,908,10,911,10,913,10,916,10,919,10,921.5,10,924.5,10,926.6,10,931,10,933.4,10,935,10,937.9,10,941,10,942.5,10,950,10,954.5,10,967,10,984,5,988.5,5,990,5,900,5,903,10,905],
[17,5,784,10,788,5,790,5,793,10,795.8,5,798.5,5,807,5,825,10,827,10,820,10,840,10,848,10,861,10,876,10,884,10,891,10,899,10,918.4,10,940.6,10,942,10,945,10,986.6,5,989.7],
[16,10,783.5,10,785,10,788,10,792.4,10,813.5,10,816,10,819.7,5,821.6,10,824,10,826.4,10,830,5,832.5,10,835,10,838.7,10,844,10,848,10,850,10,854,10,855.5,10,860,10,865.3,10,867.5,10,872.4,10,874.6,10,876.8,5,882,5,886.6,7,891.7,10,894.2,10,897,7,900.2,10,914.4,10,916,10,918.1,10,920,5,922,5,923.5,5,926.6,10,929,10,932.7,10,936.5,5,945,7,950.8,5,959,5,961.5,10,971,10,973.3,10,979,5,982.5,10,986.6,5,990.5],
[15,10,783.5,5,808.5,5,812,5,820,10,918.8,5,921,5,923.2,10,925.6,10,929,10,931,10,932.5,10,934.8,10,937.5,10,940,5,945,10,948.8,10,951,5,955,10,956.2,10,966,10,968.5,10,970,10,973,5,974.6,10,979,10,981,5,982,10,986.6,5,866,5,868],
[14,10,793,5,794.7,10,798.5,5,802,5,804.6,10,809,10,825,5,826.3,5,830,5,833.4,10,843.2,5,848,5,851,5,852.8,10,855.2,5,857,10,867.5,5,873,10,874.6,10,879.7,5,884,10,888.2,5,892.6,5,898.5,10,904.8,5,909.6,10,911.3,10,913.3,10,918.8,10,922.2,5,927,10,928,10,935.5,10,938.5,10,942,10,944.7,10,948.8,10,985,10,993],
[13,10,791,10,794.7,10,798.5,5,828,10,828.2,5,830,5,832.9,10,848.4,10,850.6,10,871.8,10,893,10,895,10,900.2,10,903.7,5,917.4,10,937,10,939.5,5,943,5,950,10,955,10,958.3,10,968,5,973.6,10,976,10,985,10,987.6,10,990.3,10,993],
[12,10,786,10,807.6,10,823.3,5,825.5,10,858,10,869.7,10,871.8,10,882,10,902.4,10,904,10,905.6,10,909.6,10,913.7,10,916.4,10,920.5,10,924,10,951.6,10,955,10,963.4,10,965.8,10,968.5,10,971,10,976,10,977.7,10,980,10,982.5,10,985,10,987.6,10,993,5,996],
[11,10,786,10,799.5,10,806,10,835.6,10,837.6,10,869.7,10,873,5,891.5,5,913.7,10,923,10,927,10,929.7,10,936,10,945.7,5,972.5,0,998],
[10,10,791.4,10,796.6,10,800,10,802,10,804,0,813,0,829,0,832,0,836,0,841,0,845,0,848,0,855,0,870,0,897,0,901,0,904,0,916,0,929,0,935,0,972,0,975,0,986,0,989,0,996,10,807.3,10,811,10,813,10,821.3,10,828.5,10,830.5,10,832.5,10,835,10,837.6,10,847.5,10,851,10,857,10,861,10,872,10,877,10,895,10,898.4,10,904,10,917.4,10,922,10,936,10,941,10,944,10,946],
[9,10,799.7,10,804,5,808.7,0,815,0,816,0,819,0,824,0,825,0,828,0,832,0,833,0,839,0,842.4,0,849,0,855,0,859,0,860,0,864,0,867,0,871,0,882.5,0,896,0,902.5,0,909,0,918,0,927.6,0,938,0,946,0,948,0,954,0,957,0,959,0,962,0,964,0,967,0,971,0,991.5,0,996,10,817.5,10,827,10,835.6,10,839.3,10,843.8,10,847.5,10,851,10,857.4,10,861.5,10,873,10,877.6,10,894.5,10,898,10,905.6,10,908,10,913,10,917,10,919,10,922.5,10,929.5,10,932,10,936,10,940.6,10,942.5,10,944,10,945.7,10,976.7,10,990],
[8,0,807,0,810.6,0,832,0,843,0,845,0,852,0,859,0,869,0,879,0,903.7,0,930,0,950,0,960,0,991,10,952.8,10,996.4,10,902],
[7,10,786,10,809,0,810.6,10,822,10,827.3,0,835,0,840,0,877.7,10,940.6,10,969,10,972,10,979.4,10,988.6,10,991,10,996.4,0,993],
[6,10,805.5,10,809,10,822,10,838.7,10,852,0,858.6,10,896.4,10,907,10,940.6,0,958,10,958.6,0,968.5,10,969,10,972,10,979.4,10,988.6,10,991,10,996.4],
[5,10,838.8,10,947],[4,10,838.8,0,968],[3,10,947],[1,10,999.8]
];

const svg = document.getElementById('chart');
const NS = 'http://www.w3.org/2000/svg';
const panel = { left: 402, right: 3405, top: 50, bottom: 2039 };
const DOT = 17;

function xScale(cost) { return 461 + (cost - 0.7) * 9360; }
function yScale(complexity) { return 1948 - complexity * 1808; }
function colorOf(n) {
  const t = Math.max(0, Math.min(1, n / 10)) * (cividisStops.length - 1);
  const i = Math.min(cividisStops.length - 2, Math.floor(t));
  const f = t - i;
  const a = parseInt(cividisStops[i].slice(1), 16), b = parseInt(cividisStops[i + 1].slice(1), 16);
  const mix = function (s) { return Math.round(((a >> s) & 255) * (1 - f) + ((b >> s) & 255) * f); };
  return 'rgb(' + mix(16) + ',' + mix(8) + ',' + mix(0) + ')';
}
function make(tag, attrs, parent) {
  const el = document.createElementNS(NS, tag);
  for (const k in attrs) el.setAttribute(k, attrs[k]);
  parent.appendChild(el);
  return el;
}

/* grid */
const grid = document.getElementById('grid');
xMinorTicks.forEach(function (v) {
  const el = make('line', { x1: xScale(v), x2: xScale(v), y1: panel.top, y2: panel.bottom, stroke: '#fff', 'stroke-width': 4 }, grid);
  
  
});
yMinorTicks.forEach(function (v) {
  const el = make('line', { x1: panel.left, x2: panel.right, y1: yScale(v), y2: yScale(v), stroke: '#fff', 'stroke-width': 4 }, grid);
  
  
});
xMajorTicks.forEach(function (v) {
  const el = make('line', { x1: xScale(v), x2: xScale(v), y1: panel.top, y2: panel.bottom, stroke: '#fff', 'stroke-width': 8 }, grid);
  
  
});
yMajorTicks.forEach(function (v) {
  const el = make('line', { x1: panel.left, x2: panel.right, y1: yScale(v), y2: yScale(v), stroke: '#fff', 'stroke-width': 8 }, grid);
  
  
});

/* frontier */
const frontierPoints = frontierCost.map(function (c, i) { return xScale(c) + ',' + yScale(frontierComplexity[i]); }).join(' ');
const frontierLine = make('polyline', { points: frontierPoints, fill: 'none', stroke: '#000', 'stroke-width': 16, 'stroke-linejoin': 'miter' }, document.getElementById('frontier'));



/* points */
const marks = document.getElementById('marks');
bandRows.forEach(function (row) {
  const y = yScale(row[0] / 120);
  const el = make('line', { x1: xScale(row[2] / 1000), x2: xScale(row[3] / 1000), y1: y, y2: y, stroke: colorOf(row[1]), 'stroke-width': DOT, 'stroke-linecap': 'round' }, marks);
  
  
});
pointRows.forEach(function (row) {
  const y = yScale(row[0] / 120);
  for (let i = 1; i + 1 < row.length; i += 2) {
    const el = make('circle', { cx: xScale(row[i + 1] / 1000), cy: y, r: DOT / 2, fill: colorOf(row[i]) }, marks);
    
    
  }
});

/* axes */
const axes = document.getElementById('axes');
xMajorTicks.forEach(function (v, i) {
  const tick = make('line', { x1: xScale(v), x2: xScale(v), y1: panel.bottom, y2: panel.bottom + 24, stroke: '#000', 'stroke-width': 8 }, axes);
  
  
  const label = make('text', { x: xScale(v), y: 2145, 'font-size': 78, 'text-anchor': 'middle', fill: '#4d4d4d' }, axes);
  
  
  label.textContent = xTickLabels[i];
});
yMajorTicks.forEach(function (v, i) {
  const tick = make('line', { x1: panel.left - 24, x2: panel.left, y1: yScale(v), y2: yScale(v), stroke: '#000', 'stroke-width': 8 }, axes);
  
  
  const label = make('text', { x: 356, y: yScale(v) + 25, 'font-size': 78, 'text-anchor': 'end', fill: '#4d4d4d' }, axes);
  
  
  label.textContent = yTickLabels[i];
});

/* legend */
const grad = document.getElementById('cividis-ramp');
cividisStops.forEach(function (c, i) {
  make('stop', { offset: i / (cividisStops.length - 1), 'stop-color': c }, grad);
});
const legend = document.getElementById('legend');
function legendY(v) { return 1634 - v * 979; }
legendTicks.forEach(function (v, i) {
  const y = legendY(v);
  const left = make('rect', { x: 3579, y: y - 6.5, width: 41, height: 13, fill: '#cccccc' }, legend);
  
  
  const right = make('rect', { x: 3743, y: y - 6.5, width: 41, height: 13, fill: '#cccccc' }, legend);
  
  
  const label = make('text', { x: 3813, y: y - 19, 'font-size': 78, fill: '#000' }, legend);
  
  
  label.textContent = legendLabels[i];
});
</script>
</body>
</html>
